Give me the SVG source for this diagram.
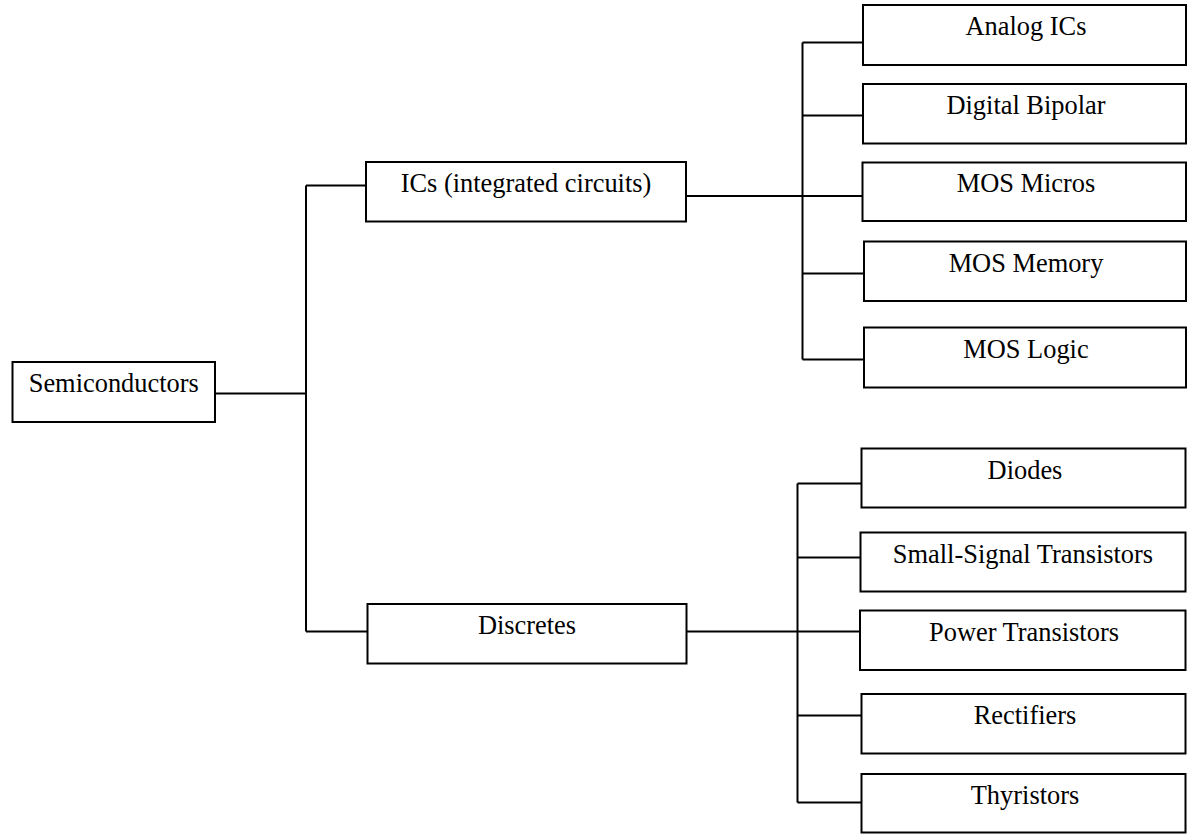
<svg xmlns="http://www.w3.org/2000/svg" width="1187" height="834" viewBox="0 0 1187 834">
<style>
rect.box{fill:#fff;stroke:#000;stroke-width:2}
text{font-family:'Liberation Serif','DejaVu Serif',serif;font-size:26.4px;fill:#000;text-anchor:middle}
.conn path{fill:none;stroke:#000;stroke-width:2}
</style>
<rect width="1187" height="834" fill="#fff"/>
<g class="conn" id="connectors">
<path d="M215,393.5H306M306,185.5V631.5M306,185.5H366M306,631.5H367.5"/>
<path d="M686,196H802.5M802.5,42.5V359.5M802.5,42.5H863M802.5,115.5H863M802.5,196H862.5M802.5,273.5H864M802.5,359.5H864"/>
<path d="M686.5,631.5H797.5M797.5,483.5V802.5M797.5,483.5H861.5M797.5,557.5H860.5M797.5,631.5H860M797.5,715.5H861.5M797.5,802.5H861.5"/>
</g>
<g id="semiconductors"><rect class="box" x="12.5" y="362" width="202.5" height="60"/><text x="113.75" y="392">Semiconductors</text></g>
<g id="ics"><rect class="box" x="366" y="162" width="320" height="59.5"/><text x="526" y="192">ICs (integrated circuits)</text></g>
<g id="discretes"><rect class="box" x="367.5" y="604" width="319" height="59.5"/><text x="527" y="633.5">Discretes</text></g>
<g id="analog"><rect class="box" x="863" y="5" width="323" height="60"/><text x="1026" y="35">Analog ICs</text></g>
<g id="digital"><rect class="box" x="863" y="84" width="323" height="59.5"/><text x="1026" y="114">Digital Bipolar</text></g>
<g id="micros"><rect class="box" x="862.5" y="162.5" width="323.5" height="58.5"/><text x="1026" y="192">MOS Micros</text></g>
<g id="memory"><rect class="box" x="864" y="241.5" width="322" height="59.5"/><text x="1026" y="271.5">MOS Memory</text></g>
<g id="logic"><rect class="box" x="864" y="327.5" width="322" height="60"/><text x="1026" y="357.5">MOS Logic</text></g>
<g id="diodes"><rect class="box" x="861.5" y="448.5" width="324" height="59"/><text x="1025" y="478.5">Diodes</text></g>
<g id="smallsignal"><rect class="box" x="860.5" y="532.5" width="325" height="59"/><text x="1023" y="562.5">Small-Signal Transistors</text></g>
<g id="power"><rect class="box" x="860" y="610.5" width="325.5" height="59.5"/><text x="1024" y="640.5">Power Transistors</text></g>
<g id="rectifiers"><rect class="box" x="861.5" y="694" width="324" height="59.5"/><text x="1025" y="724">Rectifiers</text></g>
<g id="thyristors"><rect class="box" x="861.5" y="774" width="324" height="58.5"/><text x="1025" y="804">Thyristors</text></g>
</svg>
